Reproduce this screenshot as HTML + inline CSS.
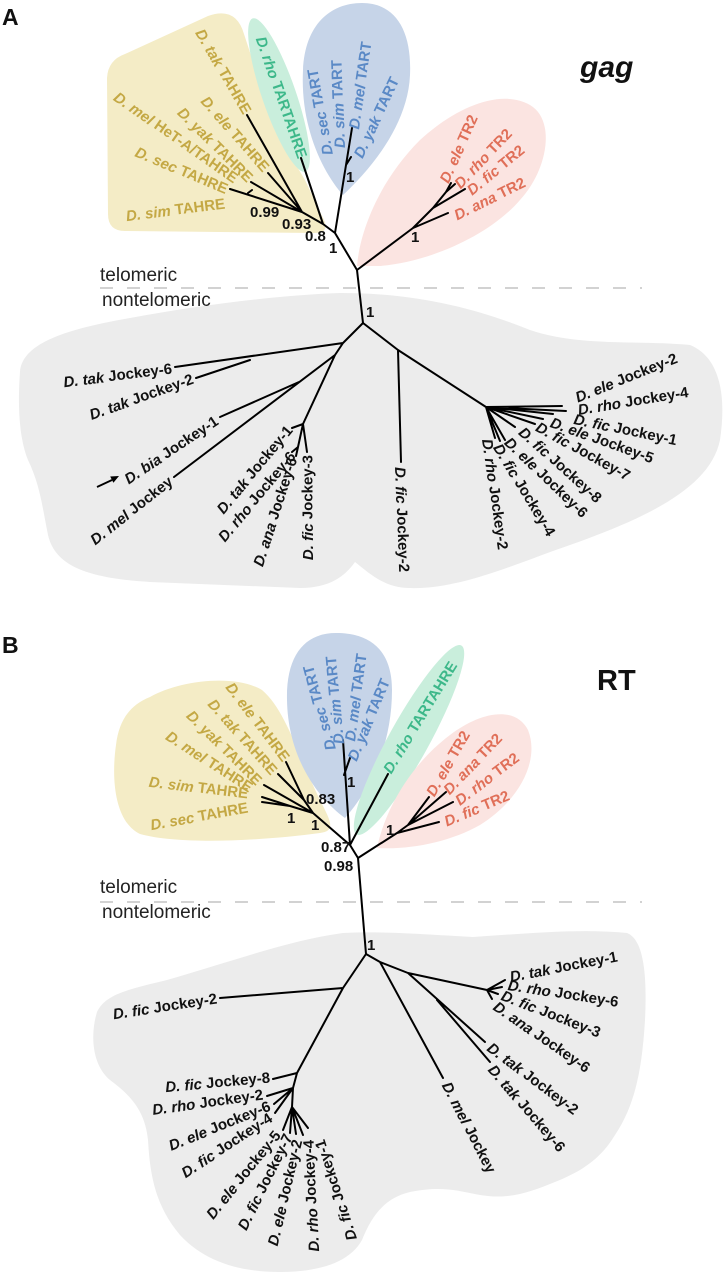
<!DOCTYPE html>
<html>
<head>
<meta charset="utf-8">
<style>
html,body{margin:0;padding:0;background:#fff;}
svg{display:block;}
text{font-family:"Liberation Sans",Arial,sans-serif;font-weight:bold;font-size:15px;}
.y{fill:#c4a844}
.b{fill:#5a89c6}
.g{fill:#3db88a}
.p{fill:#e06f58}
.k{fill:#111}
.bs{fill:#111;font-size:15px}
.tl{font-weight:normal;font-size:19px;fill:#222}
.ln{stroke:#000;stroke-width:2;fill:none;stroke-linecap:round;stroke-linejoin:round}
</style>
</head>
<body>
<svg width="723" height="1280" viewBox="0 0 723 1280" xmlns="http://www.w3.org/2000/svg">

<!-- ================= PANEL A ================= -->
<!-- blobs -->
<path d="M20,372 C22,345 60,330 130,318 C200,305 280,295 340,293 C420,293 480,310 530,330 C580,347 640,340 690,345 C722,358 726,400 720,440 C710,490 640,520 570,545 C520,562 460,590 410,588 C385,588 370,574 355,562 C345,576 330,588 300,588 L150,582 C85,578 55,565 48,535 C42,505 40,485 28,460 C18,435 18,400 20,372 Z" fill="#ececec"/>
<path d="M107,78 Q108,60 125,54 L208,16 Q236,6 244,34 L259,80 Q280,140 305,180 L324,220 Q330,233 314,233 L125,231 Q108,231 108,214 Z" fill="#f4ecc6"/>
<ellipse cx="279" cy="95" rx="81" ry="17" transform="rotate(71 279 95)" fill="#c9eedc"/>
<path d="M343,195 C325,175 300,130 303,70 C305,25 330,3 362,3 C395,3 412,30 410,75 C408,125 370,170 343,195 Z" fill="#c6d4e8"/>
<path d="M357,266 C360,230 380,180 420,140 C455,108 500,88 530,105 C556,120 548,170 520,200 C490,235 430,262 380,266 Z" fill="#fbe4e1"/>

<!-- dashed separator -->
<line x1="100" y1="288" x2="642" y2="288" stroke="#c4c4c4" stroke-width="1.6" stroke-dasharray="13 14"/>

<!-- tree A telomeric -->
<path class="ln" d="
M357,270 L363,323
M357,270 L335,233
M335,233 L352,128
M346,165 L351,157
M335,233 L323,224
M323,224 L301,158
M323,224 L302,212
M302,212 L247,115
M302,212 L268,173
M302,212 L251,182
M302,212 L230,189
M248,193 L252,190
M357,270 L413,228
M413,228 L448,213
M413,228 L433,208
M433,208 L465,189
M433,208 L446,192
M446,192 L455,184
M446,192 L451,183
"/>

<!-- tree A nontelomeric -->
<path class="ln" d="
M363,323 L343,343
M343,343 L175,367
M196,378 L250,360
M343,343 L335,355
M335,355 L174,477
M220,417 L299,382
M335,355 L303,424
M303,424 L292,428
M303,424 L298,447
M298,447 L292,452
M298,447 L296,456
M303,424 L307,452
M363,323 L398,350
M398,350 L401,462
M398,350 L486,407
M486,407 L562,406
M486,407 L566,411
M486,407 L553,414
M486,407 L543,419
M486,407 L535,424
M486,407 L515,427
M486,407 L505,440
M486,407 L500,441
M486,407 L495,438
"/>
<!-- arrow -->
<line x1="97" y1="487" x2="112" y2="480" stroke="#000" stroke-width="1.8"/>
<polygon points="119,476 113.4,482.7 110.2,476.5" fill="#000"/>

<!-- labels A -->
<text x="2" y="25" style="font-size:23px" class="k">A</text>
<text x="580" y="77" style="font-size:30px;font-style:italic" class="k">gag</text>
<text x="100" y="281" class="tl">telomeric</text>
<text x="102" y="306" class="tl">nontelomeric</text>

<!-- yellow A -->
<text class="y" text-anchor="end" dominant-baseline="central" transform="translate(247,113) rotate(60)"><tspan font-style="italic">D. tak</tspan> TAHRE</text>
<text class="y" text-anchor="end" dominant-baseline="central" transform="translate(266,170) rotate(49)"><tspan font-style="italic">D. ele</tspan> TAHRE</text>
<text class="y" text-anchor="end" dominant-baseline="central" transform="translate(250,180) rotate(45)"><tspan font-style="italic">D. yak</tspan> TAHRE</text>
<text class="y" text-anchor="end" dominant-baseline="central" transform="translate(236,180) rotate(35)"><tspan font-style="italic">D. mel</tspan> HeT-A/TAHRE</text>
<text class="y" text-anchor="end" dominant-baseline="central" transform="translate(227,190) rotate(23)"><tspan font-style="italic">D. sec</tspan> TAHRE</text>
<text class="y" text-anchor="end" dominant-baseline="central" transform="translate(225,204) rotate(-7)"><tspan font-style="italic">D. sim</tspan> TAHRE</text>
<!-- green A -->
<text class="g" text-anchor="end" dominant-baseline="central" transform="translate(302,158) rotate(71)"><tspan font-style="italic">D. rho</tspan> TARTAHRE</text>
<!-- blue A -->
<text class="b" dominant-baseline="central" transform="translate(328,155) rotate(-100)"><tspan font-style="italic">D. sec</tspan> TART</text>
<text class="b" dominant-baseline="central" transform="translate(340,148) rotate(-92)"><tspan font-style="italic">D. sim</tspan> TART</text>
<text class="b" dominant-baseline="central" transform="translate(354,129) rotate(-81.5)"><tspan font-style="italic">D. mel</tspan> TART</text>
<text class="b" dominant-baseline="central" transform="translate(358,157) rotate(-64.6)"><tspan font-style="italic">D. yak</tspan> TART</text>
<!-- pink A -->
<text class="p" dominant-baseline="central" transform="translate(444,182) rotate(-65.6)"><tspan font-style="italic">D. ele</tspan> TR2</text>
<text class="p" dominant-baseline="central" transform="translate(457,186) rotate(-46)"><tspan font-style="italic">D. rho</tspan> TR2</text>
<text class="p" dominant-baseline="central" transform="translate(469,192) rotate(-39)"><tspan font-style="italic">D. fic</tspan> TR2</text>
<text class="p" dominant-baseline="central" transform="translate(455,216) rotate(-26)"><tspan font-style="italic">D. ana</tspan> TR2</text>

<!-- bootstrap A -->
<text class="bs" x="250" y="217">0.99</text>
<text class="bs" x="282" y="229">0.93</text>
<text class="bs" x="305" y="241">0.8</text>
<text class="bs" x="329" y="253">1</text>
<text class="bs" x="346" y="182">1</text>
<text class="bs" x="411" y="242">1</text>
<text class="bs" x="366" y="317">1</text>

<!-- nontelomeric A left -->
<text class="k" text-anchor="end" dominant-baseline="central" transform="translate(172,369) rotate(-7)"><tspan font-style="italic">D. tak</tspan> Jockey-6</text>
<text class="k" text-anchor="end" dominant-baseline="central" transform="translate(193,379) rotate(-19.4)"><tspan font-style="italic">D. tak</tspan> Jockey-2</text>
<text class="k" text-anchor="end" dominant-baseline="central" transform="translate(217,420) rotate(-33.6)"><tspan font-style="italic">D. bia</tspan> Jockey-1</text>
<text class="k" text-anchor="end" dominant-baseline="central" transform="translate(171,480) rotate(-38)"><tspan font-style="italic">D. mel</tspan> Jockey</text>
<text class="k" text-anchor="end" dominant-baseline="central" transform="translate(290,428) rotate(-50)"><tspan font-style="italic">D. tak</tspan> Jockey-1</text>
<text class="k" text-anchor="end" dominant-baseline="central" transform="translate(293,454) rotate(-50)"><tspan font-style="italic">D. rho</tspan> Jockey-6</text>
<text class="k" text-anchor="end" dominant-baseline="central" transform="translate(293,458) rotate(-72)"><tspan font-style="italic">D. ana</tspan> Jockey-6</text>
<text class="k" text-anchor="end" dominant-baseline="central" transform="translate(308,455) rotate(-90)"><tspan font-style="italic">D. fic</tspan> Jockey-3</text>
<!-- nontelomeric A right -->
<text class="k" dominant-baseline="central" transform="translate(400,467) rotate(88)"><tspan font-style="italic">D. fic</tspan> Jockey-2</text>
<text class="k" dominant-baseline="central" transform="translate(487,439) rotate(82)"><tspan font-style="italic">D. rho</tspan> Jockey-2</text>
<text class="k" dominant-baseline="central" transform="translate(497,445) rotate(59)"><tspan font-style="italic">D. fic</tspan> Jockey-4</text>
<text class="k" dominant-baseline="central" transform="translate(507,440) rotate(44)"><tspan font-style="italic">D. ele</tspan> Jockey-6</text>
<text class="k" dominant-baseline="central" transform="translate(521,430) rotate(42)"><tspan font-style="italic">D. fic</tspan> Jockey-8</text>
<text class="k" dominant-baseline="central" transform="translate(537,426) rotate(29)"><tspan font-style="italic">D. fic</tspan> Jockey-7</text>
<text class="k" dominant-baseline="central" transform="translate(551,422) rotate(20)"><tspan font-style="italic">D. ele</tspan> Jockey-5</text>
<text class="k" dominant-baseline="central" transform="translate(574,419) rotate(12)"><tspan font-style="italic">D. fic</tspan> Jockey-1</text>
<text class="k" dominant-baseline="central" transform="translate(578,410) rotate(-9)"><tspan font-style="italic">D. rho</tspan> Jockey-4</text>
<text class="k" dominant-baseline="central" transform="translate(576,398) rotate(-21.6)"><tspan font-style="italic">D. ele</tspan> Jockey-2</text>

<!-- ================= PANEL B ================= -->
<path d="M343,933 C380,931 420,934 473,937 C520,934 580,928 627,933 C645,940 647,980 645,1020 C642,1070 635,1105 615,1135 C600,1160 580,1172 555,1182 C530,1192 510,1200 480,1195 C455,1190 440,1186 410,1192 C385,1198 372,1215 362,1240 C350,1262 320,1272 280,1272 C240,1272 205,1262 180,1235 C155,1205 150,1175 148,1140 C145,1110 130,1095 110,1080 C92,1065 90,1035 97,1012 C105,995 125,990 167,980 C230,962 290,940 343,933 Z" fill="#ececec"/>
<path d="M150,697 C180,680 235,674 262,690 C286,710 300,760 320,800 C330,820 337,831 320,833 C260,841 180,845 140,834 C115,822 111,780 116,745 C119,720 130,705 150,697 Z" fill="#f4ecc6"/>
<path d="M345,818 C320,800 288,760 287,700 C286,655 305,633 336,633 C370,633 392,650 392,690 C392,745 370,790 345,818 Z" fill="#c6d4e8"/>
<ellipse cx="409" cy="740" rx="108" ry="20" transform="rotate(-61 409 740)" fill="#c9eedc"/>
<path d="M377,848 C385,810 410,765 450,735 C480,712 515,705 528,730 C540,760 520,800 480,825 C450,842 410,850 377,848 Z" fill="#fbe4e1"/>

<line x1="100" y1="902" x2="642" y2="902" stroke="#c4c4c4" stroke-width="1.6" stroke-dasharray="13 14"/>

<!-- tree B telomeric -->
<path class="ln" d="
M358,858 L366,954
M358,858 L350,845
M358,858 L397,833
M397,833 L439,822
M397,833 L408,825
M408,825 L453,802
M408,825 L446,792
M408,825 L429,797
M350,845 L343,740
M344,775 L350,758
M350,845 L388,774
M350,845 L313,813
M313,813 L304,800
M304,800 L286,762
M304,800 L278,774
M313,813 L264,785
M313,813 L290,806
M290,806 L262,797
M290,806 L262,802
"/>

<!-- tree B nontelomeric -->
<path class="ln" d="
M366,954 L343,988
M343,988 L220,998
M343,988 L297,1073
M297,1073 L273,1079
M297,1073 L293,1088
M293,1088 L267,1096
M293,1088 L274,1104
M293,1088 L275,1113
M293,1088 L292,1107
M292,1107 L283,1130
M292,1107 L290,1133
M292,1107 L296,1134
M292,1107 L303,1135
M292,1107 L308,1128
M366,954 L380,962
M380,962 L443,1078
M380,962 L408,973
M408,973 L487,990
M487,990 L505,980
M487,990 L502,987
M487,990 L498,994
M487,990 L492,999
M408,973 L485,1042
M437,1000 L490,1062
"/>

<!-- labels B -->
<text x="2" y="653" style="font-size:23px" class="k">B</text>
<text x="597" y="690" style="font-size:29px" class="k">RT</text>
<text x="100" y="893" class="tl">telomeric</text>
<text x="102" y="918" class="tl">nontelomeric</text>

<!-- yellow B -->
<text class="y" text-anchor="end" dominant-baseline="central" transform="translate(286,760) rotate(53)"><tspan font-style="italic">D. ele</tspan> TAHRE</text>
<text class="y" text-anchor="end" dominant-baseline="central" transform="translate(274,773) rotate(48.6)"><tspan font-style="italic">D. tak</tspan> TAHRE</text>
<text class="y" text-anchor="end" dominant-baseline="central" transform="translate(259,783) rotate(45)"><tspan font-style="italic">D. yak</tspan> TAHRE</text>
<text class="y" text-anchor="end" dominant-baseline="central" transform="translate(251,789) rotate(33)"><tspan font-style="italic">D. mel</tspan> TAHRE</text>
<text class="y" text-anchor="end" dominant-baseline="central" transform="translate(248,794) rotate(7)"><tspan font-style="italic">D. sim</tspan> TAHRE</text>
<text class="y" text-anchor="end" dominant-baseline="central" transform="translate(248,808) rotate(-10)"><tspan font-style="italic">D. sec</tspan> TAHRE</text>
<!-- blue B -->
<text class="b" dominant-baseline="central" transform="translate(331,750) rotate(-105)"><tspan font-style="italic">D. sec</tspan> TART</text>
<text class="b" dominant-baseline="central" transform="translate(339,744) rotate(-95)"><tspan font-style="italic">D. sim</tspan> TART</text>
<text class="b" dominant-baseline="central" transform="translate(350,741) rotate(-82)"><tspan font-style="italic">D. mel</tspan> TART</text>
<text class="b" dominant-baseline="central" transform="translate(352,760) rotate(-67)"><tspan font-style="italic">D. yak</tspan> TART</text>
<!-- green B -->
<text class="g" dominant-baseline="central" transform="translate(387,772) rotate(-58.4)"><tspan font-style="italic">D. rho</tspan> TARTAHRE</text>
<!-- pink B -->
<text class="p" dominant-baseline="central" transform="translate(430,795) rotate(-59.7)"><tspan font-style="italic">D. ele</tspan> TR2</text>
<text class="p" dominant-baseline="central" transform="translate(446,792) rotate(-46)"><tspan font-style="italic">D. ana</tspan> TR2</text>
<text class="p" dominant-baseline="central" transform="translate(457,802) rotate(-37)"><tspan font-style="italic">D. rho</tspan> TR2</text>
<text class="p" dominant-baseline="central" transform="translate(445,822) rotate(-22.6)"><tspan font-style="italic">D. fic</tspan> TR2</text>

<!-- bootstrap B -->
<text class="bs" x="306" y="804">0.83</text>
<text class="bs" x="287" y="823">1</text>
<text class="bs" x="311" y="830">1</text>
<text class="bs" x="321" y="852">0.87</text>
<text class="bs" x="324" y="871">0.98</text>
<text class="bs" x="347" y="787">1</text>
<text class="bs" x="386" y="835">1</text>
<text class="bs" x="367" y="950">1</text>

<!-- nontelomeric B right -->
<text class="k" dominant-baseline="central" transform="translate(510,977) rotate(-10.6)"><tspan font-style="italic">D. tak</tspan> Jockey-1</text>
<text class="k" dominant-baseline="central" transform="translate(508,985) rotate(9)"><tspan font-style="italic">D. rho</tspan> Jockey-6</text>
<text class="k" dominant-baseline="central" transform="translate(502,995) rotate(21.5)"><tspan font-style="italic">D. fic</tspan> Jockey-3</text>
<text class="k" dominant-baseline="central" transform="translate(495,1005) rotate(34.7)"><tspan font-style="italic">D. ana</tspan> Jockey-6</text>
<text class="k" dominant-baseline="central" transform="translate(489,1046) rotate(37)"><tspan font-style="italic">D. tak</tspan> Jockey-2</text>
<text class="k" dominant-baseline="central" transform="translate(491,1067) rotate(49.5)"><tspan font-style="italic">D. tak</tspan> Jockey-6</text>
<text class="k" dominant-baseline="central" transform="translate(446,1083) rotate(63)"><tspan font-style="italic">D. mel</tspan> Jockey</text>
<!-- nontelomeric B left -->
<text class="k" text-anchor="end" dominant-baseline="central" transform="translate(217,999) rotate(-8.4)"><tspan font-style="italic">D. fic</tspan> Jockey-2</text>
<text class="k" text-anchor="end" dominant-baseline="central" transform="translate(270,1078) rotate(-5)"><tspan font-style="italic">D. fic</tspan> Jockey-8</text>
<text class="k" text-anchor="end" dominant-baseline="central" transform="translate(263,1095) rotate(-7.7)"><tspan font-style="italic">D. rho</tspan> Jockey-2</text>
<text class="k" text-anchor="end" dominant-baseline="central" transform="translate(270,1106) rotate(-21.8)"><tspan font-style="italic">D. ele</tspan> Jockey-6</text>
<text class="k" text-anchor="end" dominant-baseline="central" transform="translate(271,1117) rotate(-33)"><tspan font-style="italic">D. fic</tspan> Jockey-4</text>
<text class="k" text-anchor="end" dominant-baseline="central" transform="translate(278,1133) rotate(-50.7)"><tspan font-style="italic">D. ele</tspan> Jockey-5</text>
<text class="k" text-anchor="end" dominant-baseline="central" transform="translate(289,1135) rotate(-63.4)"><tspan font-style="italic">D. fic</tspan> Jockey-7</text>
<text class="k" text-anchor="end" dominant-baseline="central" transform="translate(298,1140) rotate(-76.5)"><tspan font-style="italic">D. ele</tspan> Jockey-2</text>
<text class="k" text-anchor="end" dominant-baseline="central" transform="translate(309,1140) rotate(-92.6)"><tspan font-style="italic">D. rho</tspan> Jockey-4</text>
<text class="k" text-anchor="end" dominant-baseline="central" transform="translate(320,1140) rotate(-107.9)"><tspan font-style="italic">D. fic</tspan> Jockey-1</text>

</svg>
</body>
</html>
